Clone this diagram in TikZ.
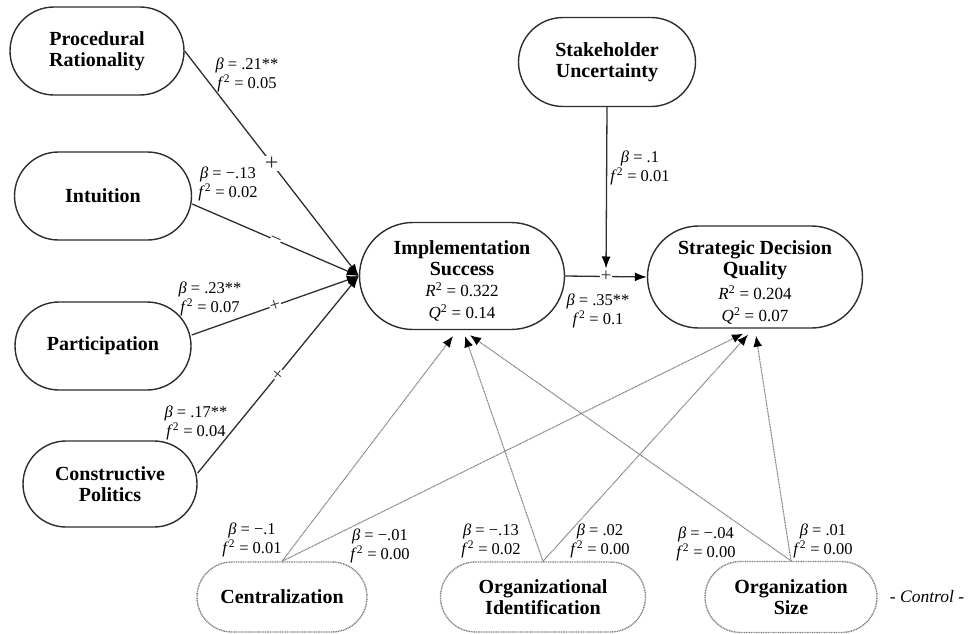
\documentclass[tikz,border=0pt]{standalone}
\usepackage{fontspec}
\setmainfont{Liberation Serif}
\usetikzlibrary{shapes.misc,arrows.meta,calc}
\definecolor{ln}{HTML}{2e2e2e}
\definecolor{dt}{HTML}{808080}
\begin{document}
\begin{tikzpicture}[x=1pt,y=-1pt,
  var/.style={rounded rectangle, draw=ln, line width=1.4pt, fill=white,
    font=\fontsize{20}{21.5}\selectfont\bfseries, align=center, inner sep=0pt},
  ctrl/.style={rounded rectangle, draw=dt, line width=1.4pt, dash pattern=on 1pt off 0.7pt, fill=white,
    font=\fontsize{20}{21.5}\selectfont\bfseries, align=center, inner sep=0pt},
  ttl/.style={font=\fontsize{20}{20.5}\selectfont\bfseries, align=center, inner sep=0pt},
  stat/.style={font=\fontsize{16.5}{18.5}\selectfont, align=center, inner sep=0pt},
  stat2/.style={font=\fontsize{17}{22}\selectfont, align=center, inner sep=0pt},
  path/.style={draw=ln, line width=1.3pt, -{Latex[length=12pt,width=9pt,color=black]}},
  cpath/.style={draw=dt, line width=1.1pt, dash pattern=on 1pt off 0.6pt, -{Latex[length=11pt,width=9pt,color=black]}},
  mk/.style={fill=white, inner sep=1pt, text=ln, font=\fontsize{24}{24}\selectfont},
  mks/.style={fill=white, inner sep=0.6pt, text=ln, sloped, font=\fontsize{19}{19}\selectfont}
]
\useasboundingbox (0,0) rectangle (969,634);

% independent variables
\node[var, minimum width=174, minimum height=88] (pr) at (97,51) {Procedural\\Rationality};
\node[var, minimum width=177, minimum height=88] (int) at (103,196) {Intuition};
\node[var, minimum width=176, minimum height=88] (par) at (103,346) {Participation};
\node[var, minimum width=174, minimum height=86] (cp) at (110,484) {Constructive\\Politics};
\node[var, minimum width=177, minimum height=89] (su) at (607,62) {Stakeholder\\Uncertainty};

% dependent variables
\node[var, minimum width=205, minimum height=107] (is) at (462,276) {};
\node[ttl] (ist) at (462,258) {Implementation\\Success};
\node[stat2] (iss) at (462,302) {\textit{R}\textsuperscript{2} = 0.322\\\textit{Q}\textsuperscript{2} = 0.14};
\node[var, minimum width=215, minimum height=102] (sdq) at (755,277) {};
\node[ttl] (sdqt) at (755,260) {Strategic Decision\\Quality};
\node[stat2] (sdqs) at (755,305) {\textit{R}\textsuperscript{2} = 0.204\\\textit{Q}\textsuperscript{2} = 0.07};

% controls
\node[ctrl, minimum width=170, minimum height=70] (cent) at (282,597) {Centralization};
\node[ctrl, minimum width=205, minimum height=70] (oid) at (543,597) {Organizational\\Identification};
\node[ctrl, minimum width=172, minimum height=71] (osz) at (791,597) {Organization\\Size};
\node[font=\fontsize{17.5}{17.5}\selectfont\itshape, inner sep=0pt] (ctl) at (927,597) {- Control -};

% control paths
\draw[cpath] (cent.north) -- ([xshift=-9pt,yshift=-6pt]is.south);
\draw[cpath] (cent.north) -- ([xshift=-12pt,yshift=-5pt]sdq.south);
\draw[cpath] (oid.north) -- ([xshift=3pt,yshift=-6pt]is.south);
\draw[cpath] (oid.north) -- ([xshift=-7pt,yshift=-6pt]sdq.south);
\draw[cpath] (osz.north) -- ([xshift=8pt,yshift=-5pt]is.south);
\draw[cpath] (osz.north) -- ([xshift=1pt,yshift=-7pt]sdq.south);

% main paths
\draw[path] (pr.east) -- node[mk]{+} (is.west);
\draw[path] ([yshift=-8pt]int.east) -- node[mks]{–} (is.west);
\draw[path] ([yshift=11pt]par.east) -- node[mks]{+} (is.west);
\draw[path] ([yshift=11pt]cp.east) -- node[mks]{+} (is.west);
\draw[path] (is.east) -- node[mks] (plus) {+} (sdq.west);
\coordinate (m) at ($(is.east)!0.5!(sdq.west)$);
\draw[path, shorten >=8pt] (su.south) -- (m);

% coefficients
\node[stat] (l1) at (247,75) {\textit{β} = .21**\\\textit{f}\textsuperscript{2} = 0.05};
\node[stat] (l2) at (228,184) {\textit{β} = −.13\\\textit{f}\textsuperscript{2} = 0.02};
\node[stat] (l3) at (210,299) {\textit{β} = .23**\\\textit{f}\textsuperscript{2} = 0.07};
\node[stat] (l4) at (196,423) {\textit{β} = .17**\\\textit{f}\textsuperscript{2} = 0.04};
\node[stat] (l5) at (640,168) {\textit{β} = .1\\\textit{f}\textsuperscript{2} = 0.01};
\node[stat] (l6) at (598,311) {\textit{β} = .35**\\\textit{f}\textsuperscript{2} = 0.1};
\node[stat] (lc1) at (252,540) {\textit{β} = −.1\\\textit{f}\textsuperscript{2} = 0.01};
\node[stat] (lc2) at (380,546) {\textit{β} = −.01\\\textit{f}\textsuperscript{2} = 0.00};
\node[stat] (lo1) at (491,541) {\textit{β} = −.13\\\textit{f}\textsuperscript{2} = 0.02};
\node[stat] (lo2) at (600,541) {\textit{β} = .02\\\textit{f}\textsuperscript{2} = 0.00};
\node[stat] (ls1) at (706,544) {\textit{β} = −.04\\\textit{f}\textsuperscript{2} = 0.00};
\node[stat] (ls2) at (823,541) {\textit{β} = .01\\\textit{f}\textsuperscript{2} = 0.00};
\end{tikzpicture}
\end{document}
